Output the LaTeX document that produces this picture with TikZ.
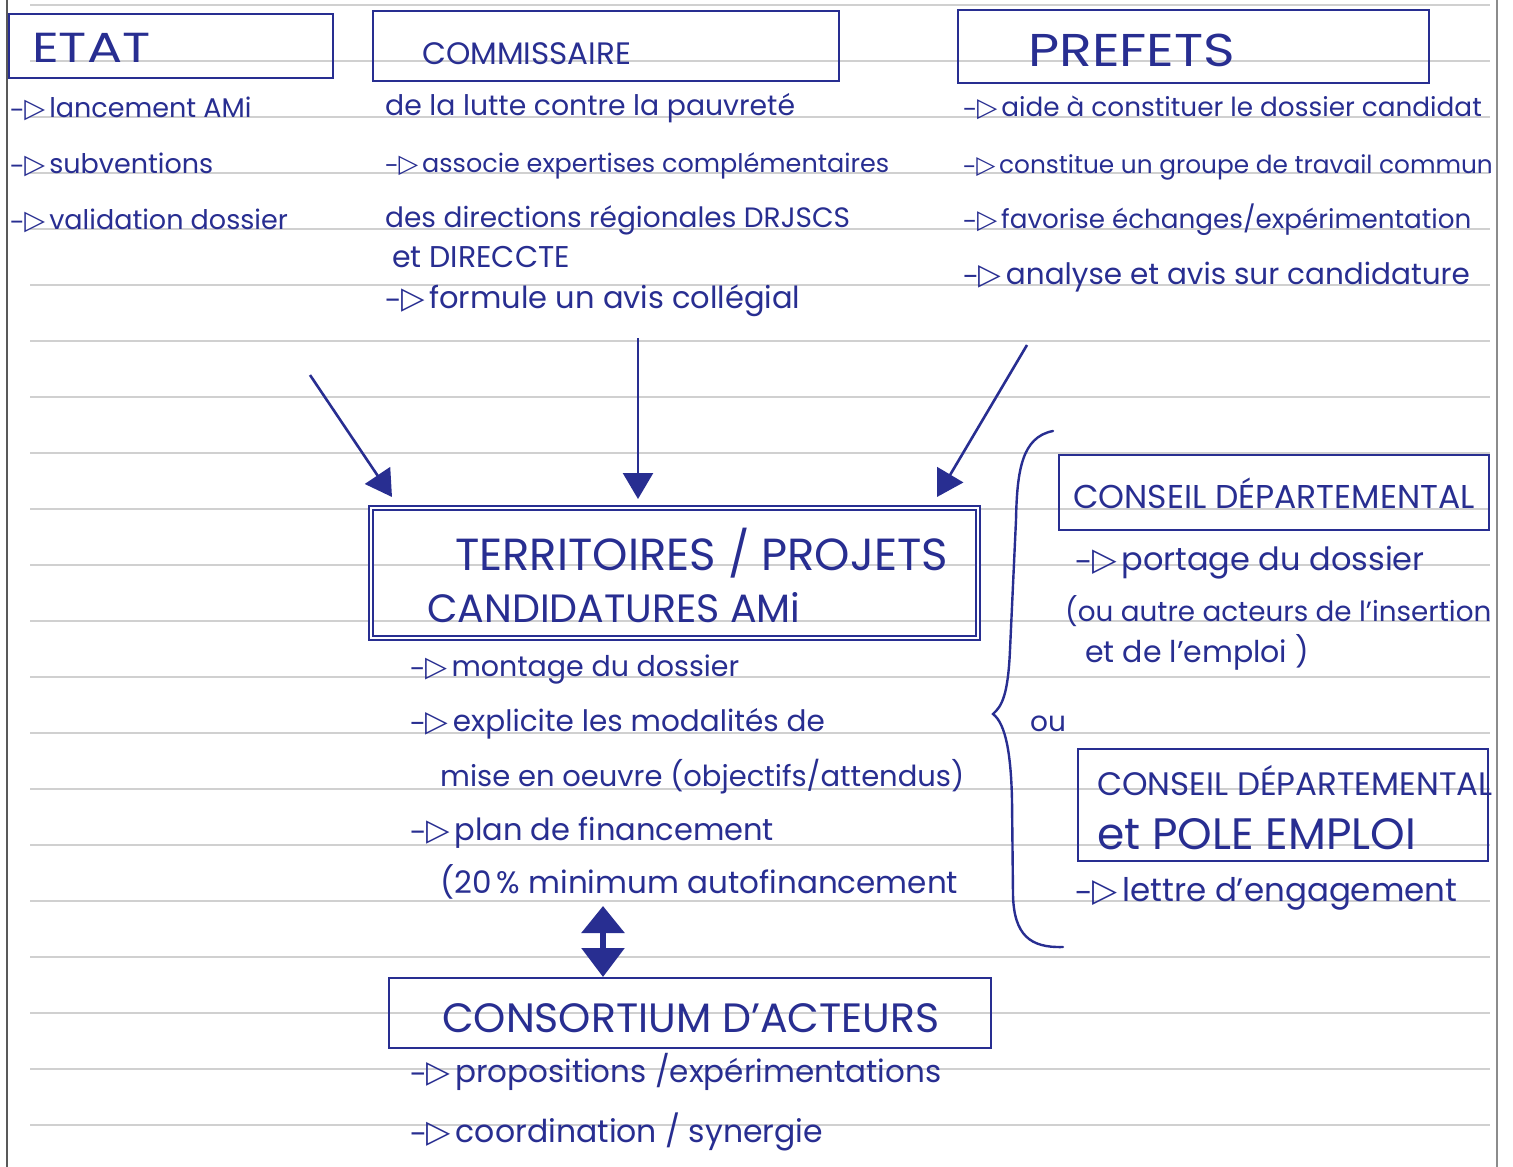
\documentclass[tikz,border=0pt]{standalone}
\usepackage{fontspec}
\setmainfont{Poppins}
\newfontfamily\symf{DejaVu Sans}
\usetikzlibrary{arrows.meta}
\definecolor{ink}{RGB}{40,46,145}
\definecolor{ruling}{RGB}{208,208,208}
\newcommand\arw{{\symf\char"2013\kern0.03em\char"25B7}\kern0.15em}
\begin{document}
\begin{tikzpicture}[x=1pt,y=-1pt,
  box/.style={draw=ink,line width=2.4pt,anchor=north west,inner sep=0pt},
  ttl/.style={text=ink,anchor=base west,inner sep=0pt,font=\fontsize{#1}{#1}\selectfont},
  itm/.style={text=ink,anchor=base west,inner sep=0pt,font=\fontsize{#1}{#1}\selectfont},
  itm/.default=28,
  arr/.style={draw=ink,line width=2.6pt,-{Triangle[width=30pt,length=26pt]}},
  darr/.style={draw=ink,line width=6pt,{Triangle[width=42pt,length=27pt]}-{Triangle[width=42pt,length=29pt]}}]
\fill[white] (0,0) rectangle (1513,1167);
\useasboundingbox (0,0) rectangle (1513,1167);
% ruled paper
\foreach \k in {0,...,20} \draw[ruling,line width=1.3pt] (30,{5+56*\k}) -- (1490,{5+56*\k});
\draw[black!65,line width=1.5pt] (7,0) -- (7,1167);
\draw[black!45,line width=1.5pt] (1497,0) -- (1497,1167);

% ETAT
\node[box,minimum width=324pt,minimum height=64pt] (etat) at (8,13) {};
\node[ttl=42] (etatT) at (32,62) {\scalebox{1.24}[1]{ETAT}};
\node[itm=27] (etat1) at (10,117) {\arw lancement AMi};
\node[itm=27] (etat2) at (10,173) {\arw subventions};
\node[itm=27] (etat3) at (10,229) {\arw validation dossier};

% COMMISSAIRE
\node[box,minimum width=466pt,minimum height=70pt] (comm) at (372,10) {};
\node[ttl=31] (commT) at (422,64) {COMMISSAIRE};
\node[itm=28.3] (comm1) at (385,115) {de la lutte contre la pauvreté};
\node[itm=25.5] (comm2) at (385,172) {\arw associe expertises complémentaires};
\node[itm=28] (comm3) at (385,227) {des directions régionales DRJSCS};
\node[itm=30] (comm4) at (392,267) {et DIRECCTE};
\node[itm=30.5] (comm5) at (385,308) {\arw formule un avis collégial};

% PREFETS
\node[box,minimum width=471pt,minimum height=73pt] (pref) at (957,9) {};
\node[ttl=46] (prefT) at (1028,66) {\scalebox{1.17}[1]{PREFETS}};
\node[itm=26.3] (pref1) at (963,116) {\arw aide à constituer le dossier candidat};
\node[itm=24.8] (pref2) at (963,173) {\arw constitue un groupe de travail commun};
\node[itm=26.2] (pref3) at (963,228) {\arw favorise échanges/expérimentation};
\node[itm=29.5] (pref4) at (963,284) {\arw analyse et avis sur candidature};

% TERRITOIRES
\node[box,double=white,double distance=2.5pt,line width=1.8pt,minimum width=607pt,minimum height=130pt] (terr) at (370,507) {};
\node[ttl=45] (terrT1) at (455,570) {TERRITOIRES / PROJETS};
\node[ttl=39.5] (terrT2) at (427,622) {CANDIDATURES AMi};
\node[itm=28.5] (terr1) at (410,676) {\arw montage du dossier};
\node[itm=29.5] (terr2) at (410,731) {\arw explicite les modalités de};
\node[itm=29] (terr3) at (440,786) {mise en oeuvre (objectifs/attendus)};
\node[itm=30.5] (terr4) at (410,840) {\arw plan de financement};
\node[itm=31] (terr5) at (440,893) {(20\,\% minimum autofinancement};

% CONSORTIUM
\node[box,minimum width=602pt,minimum height=70pt] (cons) at (388,977) {};
\node[ttl=41] (consT) at (442,1032) {CONSORTIUM D'ACTEURS};
\node[itm=31] (cons1) at (410,1082) {\arw propositions /expérimentations};
\node[itm=31.5] (cons2) at (410,1142) {\arw coordination / synergie};

% CONSEIL DEPARTEMENTAL 1
\node[box,minimum width=430pt,minimum height=75pt] (cd1) at (1058,454) {};
\node[ttl=33] (cd1T) at (1073,508) {CONSEIL DÉPARTEMENTAL};
\node[itm=32] (cd1a) at (1075,570) {\arw portage du dossier};
\node[itm=27.8] (cd1b) at (1065,621) {(ou autre acteurs de l'insertion};
\node[itm=30] (cd1c) at (1085,662) {et de l'emploi )};

\node[itm=28] (ou) at (1030,731) {ou};

% CONSEIL DEPARTEMENTAL 2
\node[box,minimum width=410pt,minimum height=112pt] (cd2) at (1077,748) {};
\node[ttl=32.5] (cd2T1) at (1097,795) {CONSEIL DÉPARTEMENTAL};
\node[ttl=44] (cd2T2) at (1097,849) {et POLE EMPLOI};
\node[itm=32.5] (cd2a) at (1075,901) {\arw lettre d'engagement};

% brace
\draw[ink,line width=2.4pt,line cap=round]
  (1053,431) .. controls (1022,437) and (1017,470) .. (1016,520)
  -- (1010,650) .. controls (1008,695) and (1002,706) .. (993,714)
  .. controls (1006,724) and (1011,755) .. (1012,800)
  -- (1013,895) .. controls (1014,935) and (1030,948) .. (1063,947);

% arrows
\coordinate (s1) at (310,375); \coordinate (e1) at (392,497);
\coordinate (s2) at (638,338); \coordinate (e2) at (638,499);
\coordinate (s3) at (1027,345); \coordinate (e3) at (937,497);
\draw[arr] (s1) -- (e1);
\draw[arr] (s2) -- (e2);
\draw[arr] (s3) -- (e3);
\coordinate (d1) at (603,906); \coordinate (d2) at (603,977);
\draw[darr] (d1) -- (d2);
\end{tikzpicture}
\end{document}
